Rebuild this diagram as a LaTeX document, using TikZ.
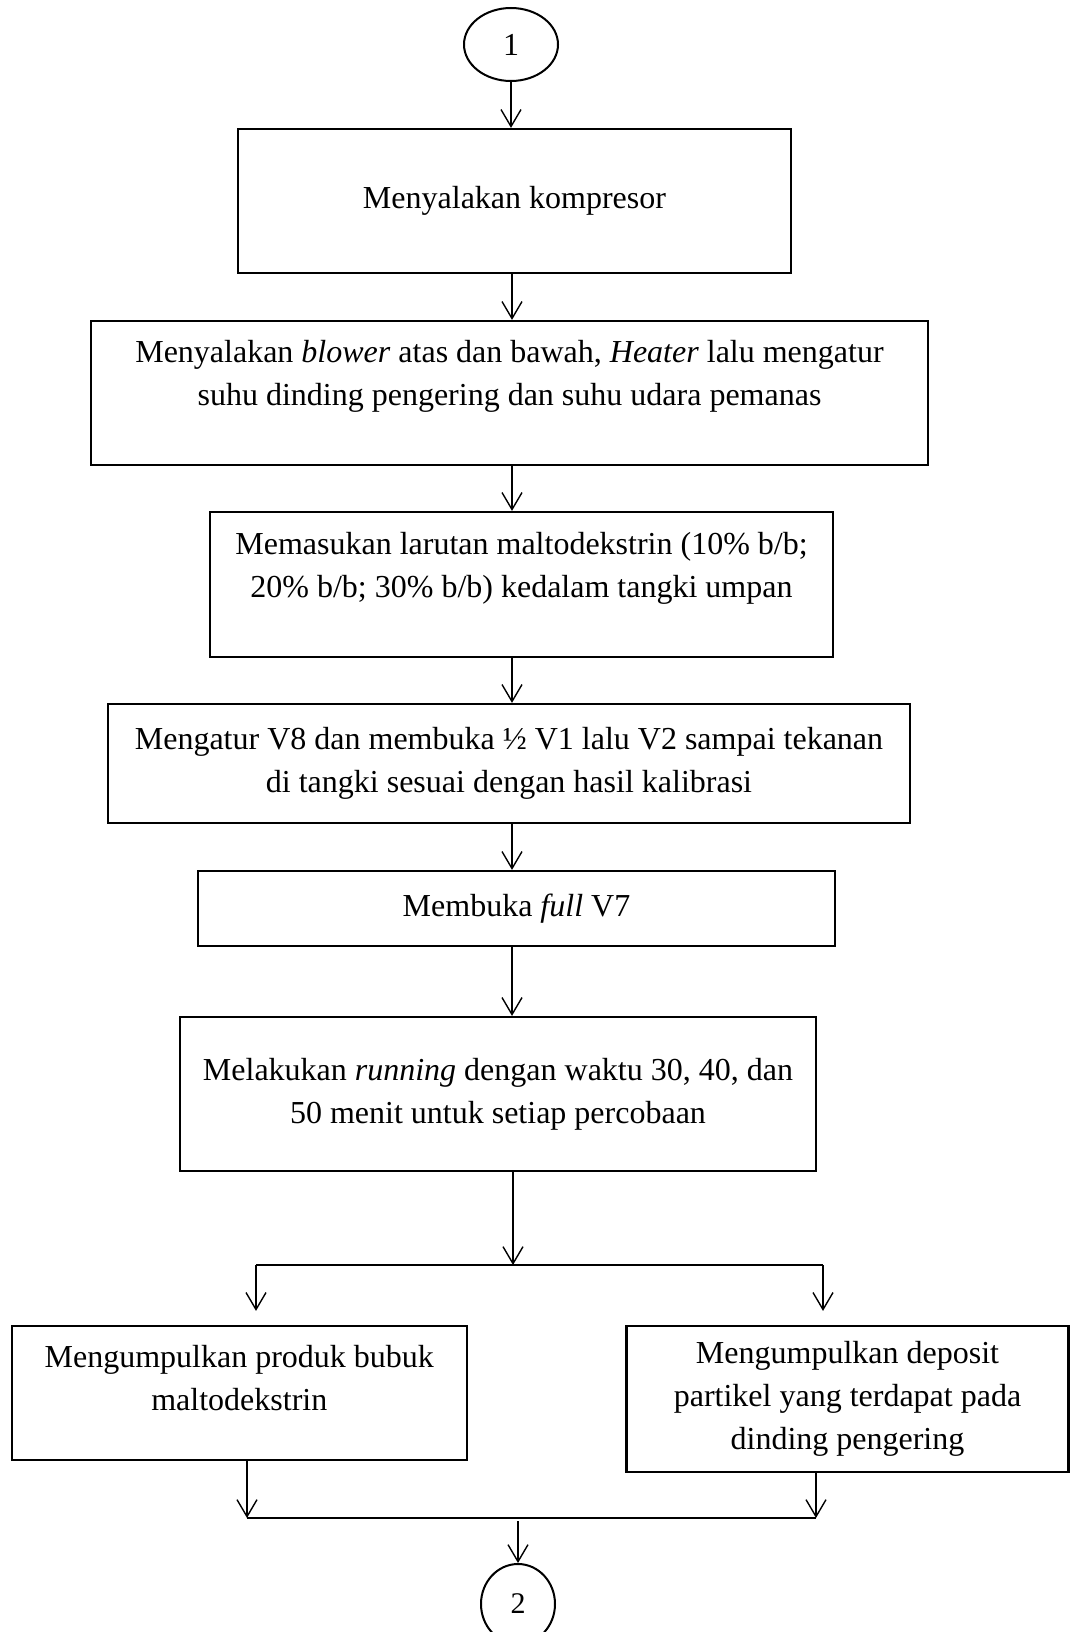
\documentclass[tikz,border=0pt]{standalone}
\usepackage{fontspec}
\setmainfont{Liberation Serif}
\usetikzlibrary{positioning,shapes.geometric,arrows.meta}

\begin{document}
\begin{tikzpicture}[x=0.5pt, y=-0.5pt,
  box/.style={draw, rectangle, line width=1.1pt, align=center, inner sep=0pt},
  words/.style={align=center, inner sep=0pt},
  ring/.style={draw, ellipse, line width=1pt, inner sep=0pt},
  flow/.style={-{Straight Barb[length=8.5pt, width=10pt]}, line width=0.7pt},
  link/.style={line width=0.8pt},
  font=\fontsize{16pt}{21.5pt}\selectfont]
\useasboundingbox (0,0) rectangle (1071,1632);
\coordinate (axis) at (512,0);

% Terminals
\node[ring, minimum width=47pt, minimum height=36.5pt] (start) at (511,44.5) {1};
\node[ring, minimum width=37pt, minimum height=40pt, font=\fontsize{15pt}{18pt}\selectfont] (finish) at (518,1604) {2};

% Boxes
\node[box, minimum width=276.5pt, minimum height=72pt] (kompresor) at (514.5,201) {Menyalakan kompresor};
\node[box, minimum width=418.5pt, minimum height=72pt] (blower) at (509.5,393) {};
\node[words, below=10pt of blower.north] (blowertext) {Menyalakan \textit{blower} atas dan bawah, \textit{Heater} lalu mengatur\\suhu dinding pengering dan suhu udara pemanas};
\node[box, minimum width=311.5pt, minimum height=72.5pt] (larutan) at (521.5,584.5) {};
\node[words, below=10.5pt of larutan.north] (larutantext) {Memasukan larutan maltodekstrin (10\% b/b;\\20\% b/b; 30\% b/b) kedalam tangki umpan};
\node[box, minimum width=401pt, minimum height=59.5pt] (tekanan) at (509,763.5) {Mengatur V8 dan membuka ½ V1 lalu V2 sampai tekanan\\di tangki sesuai dengan hasil kalibrasi};
\node[box, minimum width=318.5pt, minimum height=37.5pt] (katup) at (516.5,908.5) {Membuka \textit{full} V7};
\node[box, minimum width=318pt, minimum height=77pt] (running) at (498,1094) {Melakukan \textit{running} dengan waktu 30, 40, dan\\50 menit untuk setiap percobaan};
\node[box, minimum width=227.7pt, minimum height=67pt] (produk) at (239.3,1393) {};
\node[words, below=10pt of produk.north] (produktext) {Mengumpulkan produk bubuk\\maltodekstrin};
\node[box, minimum width=221pt, minimum height=73pt] (deposit) at (847.5,1399) {Mengumpulkan deposit\\partikel yang terdapat pada\\dinding pengering};

% Branch points
\coordinate (split) at (513,1265);
\coordinate (splitL) at (256,1265);
\coordinate (splitR) at (823,1265);
\coordinate (mergeL) at (247,1518);
\coordinate (mergeR) at (816,1518);
\coordinate (merge) at (518,1518);

% Arrows
\draw[flow] (start.south) -- (kompresor.north -| start);
\draw[flow] (kompresor.south -| axis) -- (blower.north -| axis);
\draw[flow] (blower.south -| axis) -- (larutan.north -| axis);
\draw[flow] (larutan.south -| axis) -- (tekanan.north -| axis);
\draw[flow] (tekanan.south -| axis) -- (katup.north -| axis);
\draw[flow] (katup.south -| axis) -- (running.north -| axis);
\draw[flow] (running.south -| split) -- (split);
\draw[link] (splitL) -- (splitR);
\draw[flow, shorten >=7pt] (splitL) -- (produk.north -| splitL);
\draw[flow, shorten >=7pt] (splitR) -- (deposit.north -| splitR);
\draw[flow] (produk.south -| mergeL) -- (mergeL);
\draw[flow] (deposit.south -| mergeR) -- (mergeR);
\draw[link] (mergeL) -- (mergeR);
\draw[flow, shorten <=1.5pt] (merge) -- (finish.north);
\end{tikzpicture}
\end{document}
